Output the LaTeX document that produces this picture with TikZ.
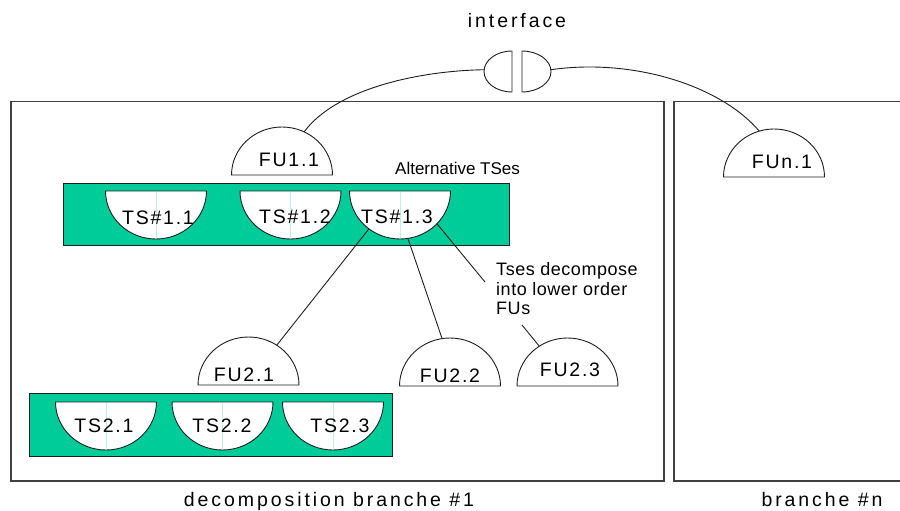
\documentclass[tikz,border=0pt]{standalone}
\usepackage{fontspec}
\setmainfont{Liberation Sans}
\newfontfamily\unitfont[LetterSpace=9]{Liberation Sans}
\newfontfamily\captionfont[LetterSpace=15]{Liberation Sans}
\newfontfamily\notefont[LetterSpace=3]{Liberation Sans}
\usetikzlibrary{calc}
\definecolor{tsgreen}{RGB}{0,204,153}
\definecolor{seam}{RGB}{196,238,228}
\definecolor{ink}{RGB}{30,30,30}

\tikzset{
  outline/.style={draw=ink, line width=0.9pt},
  wire/.style={draw=ink, line width=0.9pt},
  frame/.style={draw=ink!85, line width=1.1pt, fill=none},
  tsbar/.style={draw=ink, line width=0.9pt, fill=tsgreen, inner sep=0pt},
  unitlabel/.style={font=\unitfont\fontsize{19.5}{23}\selectfont, inner sep=0pt, anchor=base},
  caption/.style={font=\captionfont\fontsize{19.5}{23}\selectfont, inner sep=0pt, anchor=base},
  % functional unit: half ellipse, flat side down
  pics/dome/.style={code={
    \draw[outline, fill=white] (-50.5pt,0pt) arc[start angle=180, end angle=0, x radius=50.5pt, y radius=48pt] -- cycle;
  }},
  % technical solution: half ellipse, flat side up
  pics/bowl/.style={code={
    \draw[outline, fill=white] (-50.5pt,0pt) arc[start angle=180, end angle=360, x radius=50.5pt, y radius=48pt] -- cycle;
    \draw[seam, line width=0.6pt] (0pt,-1pt) -- (0pt,-47pt);
  }}
}

\begin{document}
\begin{tikzpicture}[x=1pt, y=-1pt]
\useasboundingbox (0,0) rectangle (900,511);

% decomposition branches
\node[frame, minimum width=653pt, minimum height=379.5pt, inner sep=0pt] (branch1) at (337.5,291.25) {};
\draw[frame] (910,101.5) -- (674,101.5) -- (674,481) -- (910,481);
\coordinate (branchn) at (674,291);

% alternative technical solutions bars
\node[tsbar, minimum width=446pt, minimum height=62pt] (bar1) at (286,214) {};
\node[tsbar, minimum width=363pt, minimum height=63pt] (bar2) at (210.5,424.5) {};

% interface halves
\coordinate (ifc) at (517,71.5);
\draw[outline, fill=white] (512,51) arc[start angle=90, end angle=270, x radius=28pt, y radius=20.5pt] -- cycle;
\draw[outline, fill=white] (522,51) arc[start angle=90, end angle=-90, x radius=29pt, y radius=20.5pt] -- cycle;
\coordinate (ifL) at ($(512,71.5)+(175:28pt and 20.5pt)$);
\coordinate (ifR) at ($(522,71.5)+(5:29pt and 20.5pt)$);

% functional units
\coordinate (FU11) at (282,175);
\coordinate (FUn1) at (774,177);
\coordinate (FU21) at (248.5,385);
\coordinate (FU22) at (450,386);
\coordinate (FU23) at (567.5,386);
\foreach \c in {FU11,FUn1,FU21,FU22,FU23} { \pic at (\c) {dome}; }

% technical solutions
\coordinate (TS11) at (156,191);
\coordinate (TS12) at (290.5,191);
\coordinate (TS13) at (400,191);
\coordinate (TS21) at (106,402);
\coordinate (TS22) at (222.5,402);
\coordinate (TS23) at (333,402);
\foreach \c in {TS11,TS12,TS13,TS21,TS22,TS23} { \pic at (\c) {bowl}; }

% labels
\node[caption] (ifcl) at (517,27.5) {interface};
\node[unitlabel] (fu11l) at (289,166) {FU1.1};
\node[unitlabel] (fun1l) at (782,168) {FUn.1};
\node[unitlabel] (fu21l) at (244,381) {FU2.1};
\node[unitlabel] (fu22l) at (450,382) {FU2.2};
\node[unitlabel] (fu23l) at (570,376) {FU2.3};
\node[unitlabel] (ts11l) at (158,224) {TS\#1.1};
\node[unitlabel] (ts12l) at (295,223) {TS\#1.2};
\node[unitlabel] (ts13l) at (397,223) {TS\#1.3};
\node[unitlabel] (ts21l) at (104,432) {TS2.1};
\node[unitlabel] (ts22l) at (222,432) {TS2.2};
\node[unitlabel] (ts23l) at (340,432) {TS2.3};
\node[inner sep=0pt, anchor=base west, font=\fontsize{17}{20}\selectfont] (alt) at (395,174) {Alternative TSes};
% the base anchor of this three-line node sits on its last line
\node[inner sep=0pt, anchor=base west, font=\notefont\fontsize{18}{19.3}\selectfont, align=left] (note) at (496,314.3) {Tses decompose\\into lower order\\FUs};
\node[caption] (b1l) at (329,506) {decomposition branche \#1};
\node[caption] (bnl) at (822,506) {branche \#n};

% connectors
\coordinate (noteIn) at (485,282);
\coordinate (noteOut) at (522,325);
\draw[wire] (ifL) .. controls (415,71) and (335,90) .. ($(FU11)+(64:50.5pt and 48pt)$);
\draw[wire] (ifR) .. controls (632,58) and (720,85) .. ($(FUn1)+(107:50.5pt and 48pt)$);
\draw[wire] ($(TS13)+(232:50.5pt and 48pt)$) -- ($(FU21)+(56:50.5pt and 48pt)$);
\draw[wire] ($(TS13)+(279:50.5pt and 48pt)$) -- ($(FU22)+(99:50.5pt and 48pt)$);
\draw[wire] ($(TS13)+(317:50.5pt and 48pt)$) -- (noteIn);
\draw[wire] (noteOut) -- ($(FU23)+(124:50.5pt and 48pt)$);
\end{tikzpicture}
\end{document}
